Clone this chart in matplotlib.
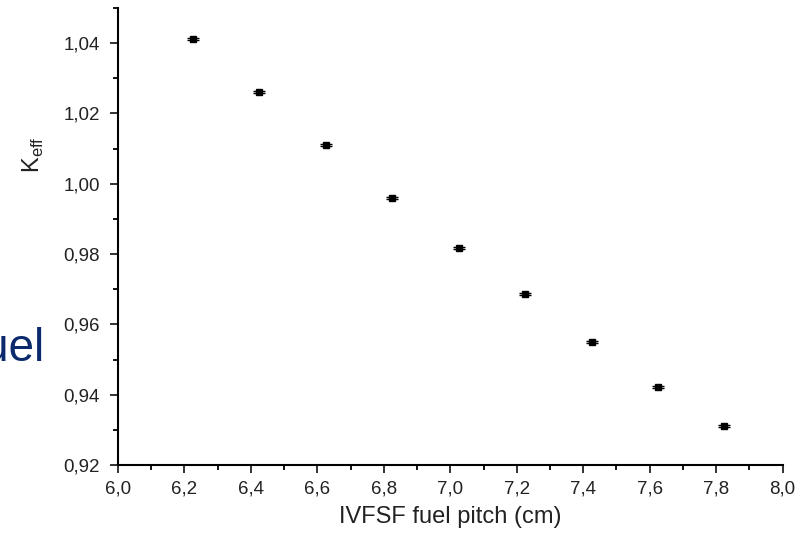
import matplotlib
matplotlib.use("Agg")
import matplotlib.pyplot as plt
from matplotlib.ticker import MultipleLocator, FuncFormatter

pitch = [6.225, 6.425, 6.625, 6.825, 7.025, 7.225, 7.425, 7.625, 7.825]
keff = [1.0411, 1.0261, 1.0110, 0.9960, 0.9818, 0.9686, 0.9549, 0.9421, 0.9312]
keff_err = [0.0003, 0.0003, 0.0003, 0.0003, 0.0003, 0.0003, 0.0003, 0.0003, 0.0003]

plt.rcParams['font.family'] = ['Liberation Sans', 'DejaVu Sans']

fig = plt.figure(figsize=(8.11, 5.36), dpi=100)
ax = fig.add_axes([0.1455, 0.1325, 0.8195, 0.8525])

ax.errorbar(pitch, keff, yerr=keff_err, fmt='s', color='black', markersize=4.2,
            capsize=4, elinewidth=1, capthick=1)

ax.set_xlim(6.0, 8.0)
ax.set_ylim(0.92, 1.05)
ax.xaxis.set_major_locator(MultipleLocator(0.2))
ax.xaxis.set_minor_locator(MultipleLocator(0.1))
ax.yaxis.set_major_locator(MultipleLocator(0.02))
ax.yaxis.set_minor_locator(MultipleLocator(0.01))
ax.xaxis.set_major_formatter(FuncFormatter(lambda v, p: f"{v:.1f}".replace('.', ',')))
ax.yaxis.set_major_formatter(FuncFormatter(lambda v, p: f"{v:.2f}".replace('.', ',')))

for s in ['top', 'right']:
    ax.spines[s].set_visible(False)
for s in ['left', 'bottom']:
    ax.spines[s].set_linewidth(1.5)
ax.tick_params(which='major', direction='out', length=6, width=1.3, labelsize=13.5,
               colors='#222222')
ax.tick_params(axis='x', which='major', pad=5)
ax.tick_params(axis='y', which='major', pad=7)
ax.tick_params(which='minor', direction='out', length=3.5, width=1.3)

ax.set_xlabel('IVFSF fuel pitch (cm)', fontsize=17, color='#222222', labelpad=6)
ax.set_ylabel(r'K$_{\mathregular{eff}}$', fontsize=17, color='#222222')
ax.yaxis.set_label_coords(-0.109, 0.678)

fig.text(0.054, 0.327, 'uel', fontsize=33, color='#0b2a6b', ha='right', va='baseline')

fig.savefig('out.png', dpi=100)
